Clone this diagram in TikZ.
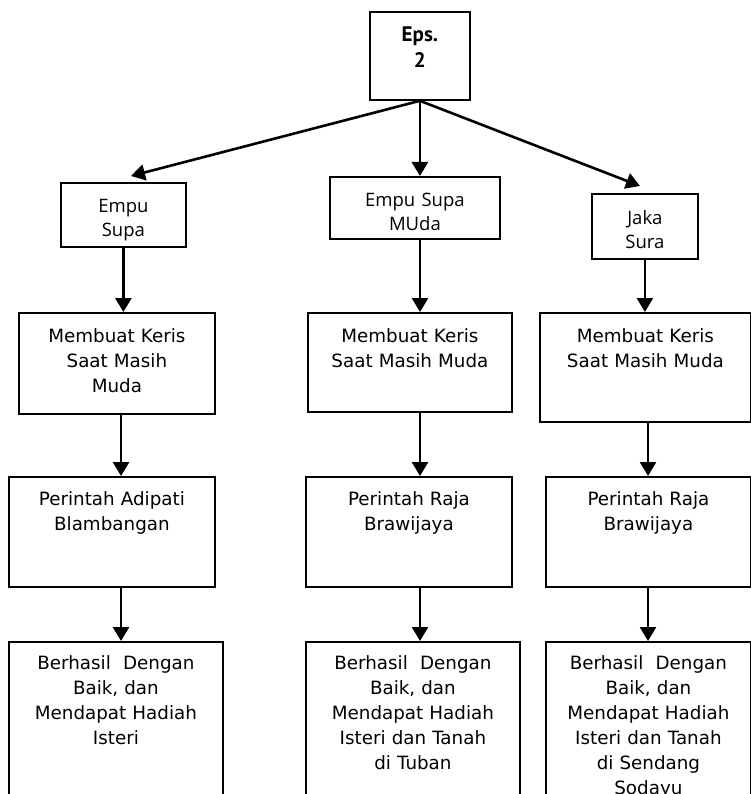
\documentclass[tikz,border=0pt]{standalone}
\usepackage{fontspec}
\usepackage{tikz}
\usetikzlibrary{arrows.meta}
\newfontfamily\boxfont{DejaVu Sans}
\newfontfamily\namefont{Open Sans}
\newfontfamily\epsfont{PT Sans}

\begin{document}
\begin{tikzpicture}[x=1pt, y=-1pt,
  box/.style={draw, line width=1.8pt, anchor=north west, align=center, inner xsep=3pt, inner ysep=0pt},
  judul/.style={box, font=\epsfont\bfseries\fontsize{21}{26}\selectfont},
  tokoh/.style={box, font=\namefont\fontsize{18.5}{24}\selectfont},
  keris/.style={box, font=\boxfont\fontsize{18.3}{25}\selectfont},
  panah/.style={line width=2.6pt, -{Triangle[length=14pt, width=16pt]}}]
\useasboundingbox (0,0) rectangle (751,794);

% Episode box
\node[judul, text width=94, text height=30, text depth=58] (eps) at (369,11) {Eps.\\2};

% The three figures
\node[tokoh, text width=119, text height=30, text depth=34] (s1) at (60,182) {Empu\\Supa};
\node[tokoh, text width=164, text height=30, text depth=32] (s2) at (329,176) {Empu Supa\\MUda};
\node[tokoh, text width=100, text height=31, text depth=34] (s3) at (591,193) {Jaka\\Sura};

% Row 2
\node[keris, text width=190, text height=30, text depth=71] (k1) at (18,312) {Membuat Keris\\Saat Masih\\Muda};
\node[keris, text width=198, text height=30, text depth=69] (k2) at (307,312) {Membuat Keris\\Saat Masih Muda};
\node[keris, text width=205, text height=30, text depth=79] (k3) at (539,312) {Membuat Keris\\Saat Masih Muda};

% Row 3
\node[keris, text width=200, text height=29, text depth=81] (p1) at (8,476) {Perintah Adipati\\Blambangan};
\node[keris, text width=200, text height=29, text depth=81] (p2) at (305,476) {Perintah Raja\\Brawijaya};
\node[keris, text width=199, text height=29, text depth=81] (p3) at (545,476) {Perintah Raja\\Brawijaya};

% Row 4
\node[keris, text width=208, text height=28, text depth=142] (b1) at (8,641) {Berhasil\ \ Dengan\\Baik, dan\\Mendapat Hadiah\\Isteri};
\node[keris, text width=208, text height=28, text depth=142] (b2) at (305,641) {Berhasil\ \ Dengan\\Baik, dan\\Mendapat Hadiah\\Isteri dan Tanah\\di Tuban};
\node[keris, text width=199, text height=28, text depth=142] (b3) at (545,641) {Berhasil\ \ Dengan\\Baik, dan\\Mendapat Hadiah\\Isteri dan Tanah\\di Sendang\\Sodayu};

% Arrow columns and free ends
\coordinate (c1) at (121,0);
\coordinate (c2) at (420,0);
\coordinate (c3) at (648,0);
\coordinate (t1) at (131,176);
\coordinate (t3) at (640,186);

% Arrows
\draw[panah] (eps.south) -- (t1);
\draw[panah] (eps.south) -- (eps.south |- s2.north);
\draw[panah] (eps.south) -- (t3);

\draw[panah] (s1.south) -- (s1.south |- k1.north);
\draw[panah] (s2.south -| c2) -- (k2.north -| c2);
\draw[panah] (s3.south) -- (s3.south |- k3.north);

\draw[panah] (k1.south -| c1) -- (p1.north -| c1);
\draw[panah] (k2.south -| c2) -- (p2.north -| c2);
\draw[panah] (k3.south -| c3) -- (p3.north -| c3);

\draw[panah] (p1.south -| c1) -- (b1.north -| c1);
\draw[panah] (p2.south -| c2) -- (b2.north -| c2);
\draw[panah] (p3.south -| c3) -- (b3.north -| c3);
\end{tikzpicture}
\end{document}
